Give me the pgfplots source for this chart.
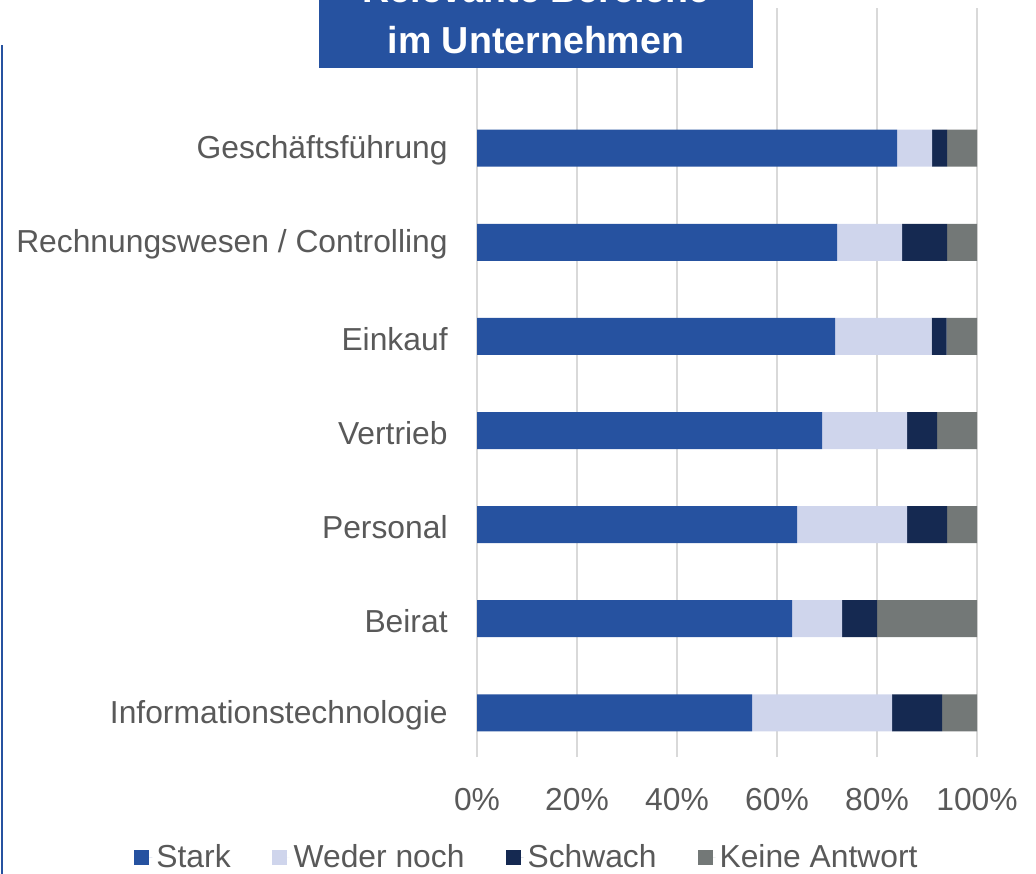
\documentclass[border=0pt]{standalone}
\usepackage{fontspec}
\setmainfont{Liberation Sans}
\usepackage{pgfplots}
\pgfplotsset{compat=1.18}
\definecolor{stark}{RGB}{38,82,160}
\definecolor{weder}{RGB}{207,213,236}
\definecolor{schwach}{RGB}{21,41,81}
\definecolor{keine}{RGB}{115,120,119}
\definecolor{txtgray}{RGB}{89,89,89}
\definecolor{gridgray}{RGB}{217,217,217}

% y: 0 = Informationstechnologie ... 6 = Geschaeftsfuehrung
\pgfplotstableread{
y stark weder schwach keine
0 55   28   10 7
1 63   10   7  20
2 64   22   8  6
3 69   17   6  8
4 71.6 19.3 3  6.1
5 72   13   9  6
6 84   7    3  6
}\bereiche

\begin{document}
\begin{tikzpicture}
\path[use as bounding box] (0pt,0pt) rectangle (518pt,-436.5pt);
\fill[stark] (0.5pt,-22.5pt) rectangle (1.5pt,-440pt);
\begin{axis}[
  at={(238.5pt,-378.5pt)}, anchor=south west,
  scale only axis, width=250pt, height=374.5pt,
  xbar stacked, bar width=18.5pt,
  xmin=0, xmax=100, ymin=-0.47, ymax=7.49,
  xtick={0,20,40,60,80,100},
  xticklabels={0\%,20\%,40\%,60\%,80\%,100\%},
  ytick={0,...,6},
  yticklabels={Informationstechnologie,Beirat,Personal,Vertrieb,Einkauf,
    Rechnungswesen / Controlling,Geschäftsführung},
  major tick length=0pt,
  axis line style={draw=none},
  xmajorgrids, grid style={gridgray, line width=1pt},
  tick label style={font=\fontsize{15.9}{18}\selectfont, text=txtgray},
  xticklabel style={anchor=center, yshift=-21.5pt},
  yticklabel style={anchor=east, inner sep=0pt, xshift=-14.5pt, yshift=-1.2pt},
  legend style={at={(0.102,-0.1335)}, anchor=center, draw=none, fill=none,
    legend columns=4, font=\fontsize{15.9}{18}\selectfont, text=txtgray,
    /tikz/every even column/.append style={column sep=18.5pt}},
  legend image code/.code={\fill[#1] (0,-3.75pt) rectangle (7.5pt,3.75pt);
    \path (7.5pt,0) -- (9pt,0);},
]
  \addplot[fill=stark, draw=none] table[x=stark, y=y] {\bereiche};
  \addlegendentry{Stark}
  \addplot[fill=weder, draw=none] table[x=weder, y=y] {\bereiche};
  \addlegendentry{Weder noch}
  \addplot[fill=schwach, draw=none] table[x=schwach, y=y] {\bereiche};
  \addlegendentry{Schwach}
  \addplot[fill=keine, draw=none] table[x=keine, y=y] {\bereiche};
  \addlegendentry{Keine Antwort}
\end{axis}
\fill[stark] (159.5pt,-34pt) rectangle (376.5pt,30pt);
\node[text=white, font=\bfseries\fontsize{18.8}{25.6}\selectfont, align=center]
  at (268pt,-7.2pt) {Relevante Bereiche\\im Unternehmen};
\end{tikzpicture}
\end{document}
